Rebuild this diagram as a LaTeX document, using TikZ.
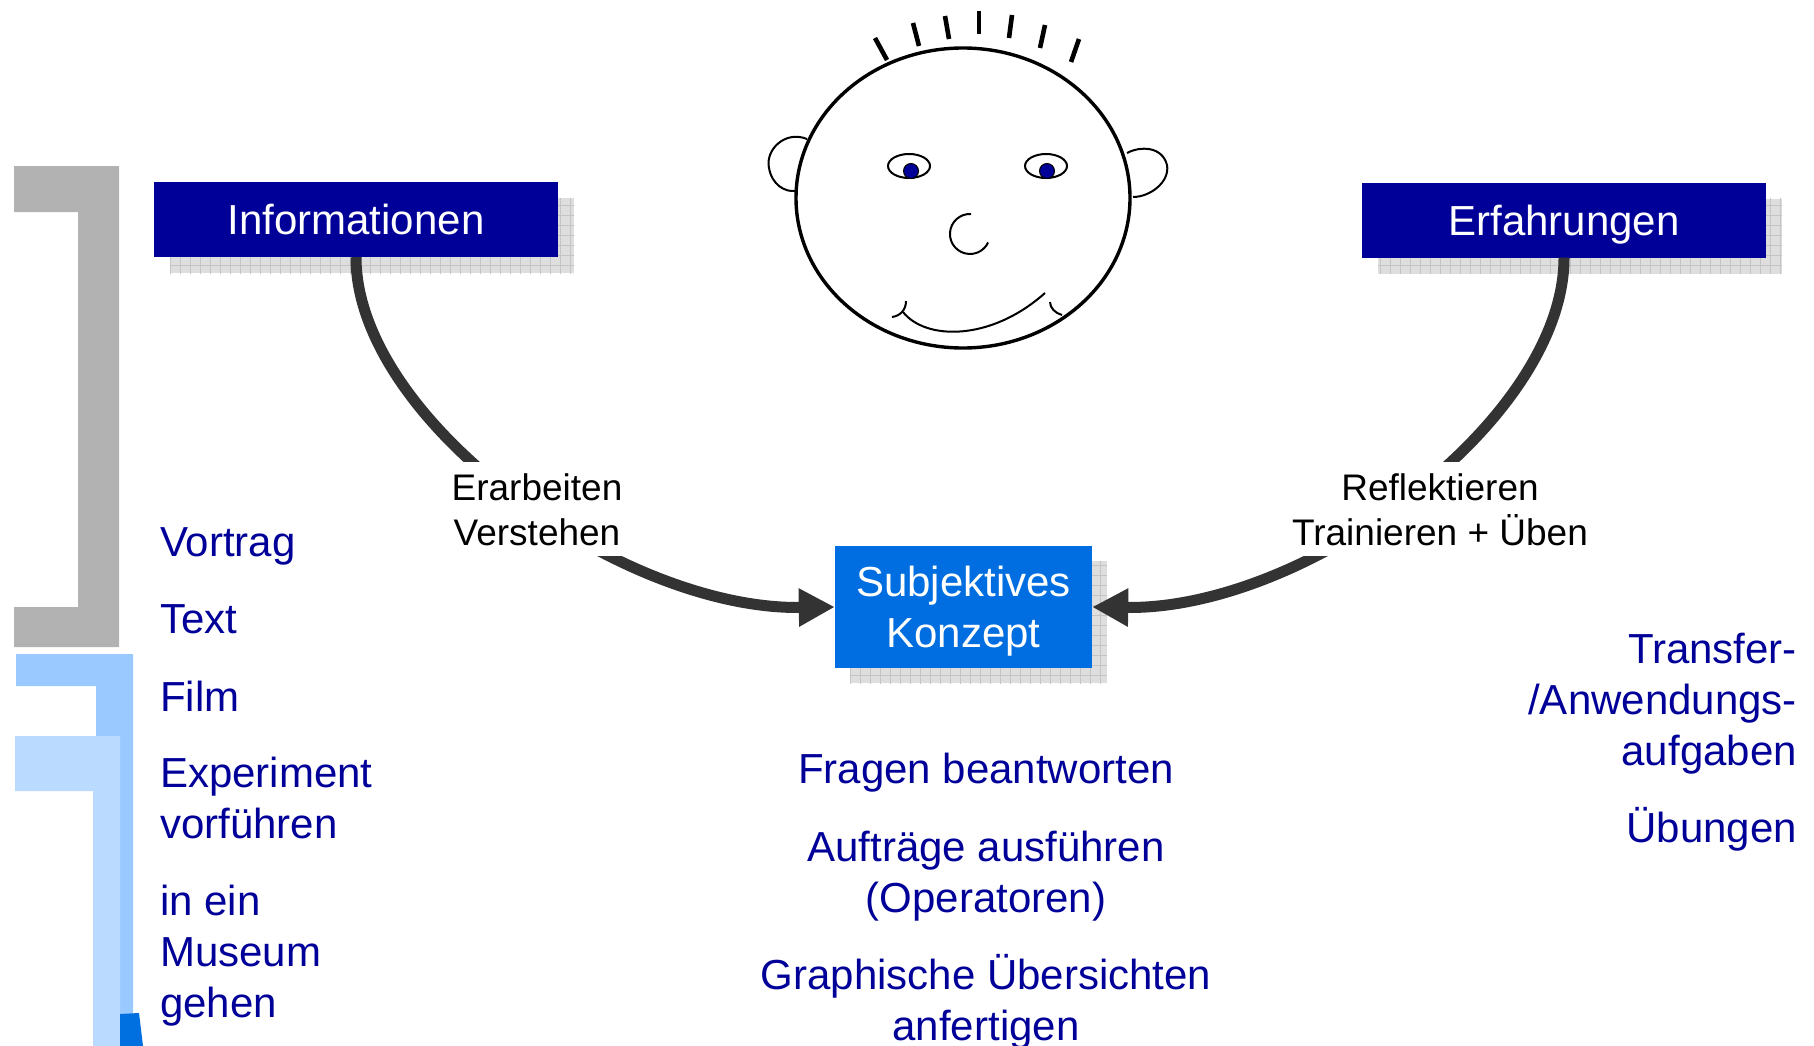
\documentclass[tikz,border=0pt]{standalone}
\usepackage{fontspec}
\setmainfont{Liberation Sans}
\usetikzlibrary{arrows.meta,shadows,patterns.meta}

\newlength{\du}
\setlength{\du}{1pt}

\definecolor{navytext}{RGB}{0,0,153}
\definecolor{boxnavy}{RGB}{0,0,153}
\definecolor{boxblue}{RGB}{0,110,224}
\definecolor{arrowgray}{RGB}{51,51,51}
\definecolor{shadowgray}{RGB}{222,222,222}
\definecolor{gridgray}{RGB}{196,196,196}
\definecolor{bracketgray}{RGB}{178,178,178}
\definecolor{bluebarA}{RGB}{153,201,255}
\definecolor{bluebarB}{RGB}{186,218,255}
\definecolor{bluetick}{RGB}{0,112,224}

\tikzset{
  gridshadow/.style={
    drop shadow={shadow xshift=#1, shadow yshift=-#1, fill=shadowgray, opacity=1},
    drop shadow={shadow xshift=#1, shadow yshift=-#1, opacity=1,
      pattern={Hatch[angle=0, distance=10pt, line width=1pt]}, pattern color=gridgray}},
  topicbox/.style={fill=boxnavy, text=white, inner sep=0pt, text depth=0pt,
    minimum width=404\du, minimum height=75\du,
    font=\fontsize{42}{51}\selectfont, gridshadow=16pt},
  conceptbox/.style={fill=boxblue, text=white, inner sep=0pt, text depth=0pt, align=center,
    minimum width=257\du, minimum height=122\du,
    font=\fontsize{42}{51}\selectfont, gridshadow=15pt},
  flow/.style={draw=arrowgray, line width=11\du, -{Triangle[length=36pt, width=36pt]}},
  flowlabel/.style={fill=white, inner sep=11\du, align=center, anchor=north,
    font=\fontsize{37}{45}\selectfont},
  item/.style={text=navytext, inner sep=0pt, font=\fontsize{42}{51}\selectfont},
  headline/.style={line width=3.4\du},
  hairline/.style={line width=4.6\du},
  thinline/.style={line width=2\du}
}

\begin{document}
\begin{tikzpicture}[x=1\du, y=-1\du]
\useasboundingbox (0,0) rectangle (1814,1046);

% bars on the left
\fill[bracketgray] (14,166) -- (119,166) -- (119,647) -- (14,647) -- (14,607) -- (78,607) -- (78,212) -- (14,212) -- cycle;
\fill[bluebarA] (16,654) -- (133,654) -- (133,1046) -- (96,1046) -- (96,686) -- (16,686) -- cycle;
\fill[bluebarB] (15,736) -- (120,736) -- (120,1046) -- (93,1046) -- (93,791) -- (15,791) -- cycle;
\fill[bluetick] (120,1014) -- (139,1013) -- (143,1046) -- (120,1046) -- cycle;

% face
\draw[thinline] (807,139) .. controls (785,130) and (765,150) .. (769,168) .. controls (772,185) and (785,192) .. (795,191);
\draw[thinline] (1127,153) .. controls (1140,146) and (1162,146) .. (1167,165) .. controls (1170,182) and (1150,197) .. (1133,197);
\draw[headline, fill=white] (963,198) ellipse [x radius=167, y radius=150];
\draw[hairline] (875,38) -- (887,60);
\draw[hairline] (913,23) -- (919,46);
\draw[hairline] (945,16) -- (949,39);
\draw[hairline] (979,11) -- (979,34);
\draw[hairline] (1012,15) -- (1009,38);
\draw[hairline] (1045,25) -- (1040,48);
\draw[hairline] (1079,39) -- (1071,62);
\draw[thinline] (909,166) ellipse [x radius=21, y radius=12];
\draw[thinline] (1046,166) ellipse [x radius=21, y radius=12];
\filldraw[fill=navytext, line width=1\du] (911,171) circle [radius=7.5];
\filldraw[fill=navytext, line width=1\du] (1047,171) circle [radius=7.5];
\draw[thinline] (971,214) arc [start angle=-87, end angle=-335, radius=20];
\draw[thinline] (903,312) .. controls (925,340) and (990,342) .. (1045,293);
\draw[thinline] (892,317) .. controls (900,316) and (906,310) .. (906,301);
\draw[thinline] (1050,302) .. controls (1050,308) and (1055,313) .. (1062,315);

% boxes
\node[topicbox] (info) at (356,219.5) {Informationen};
\node[topicbox] (erf) at (1564,220) {Erfahrungen};
\node[conceptbox] (konzept) at (963.5,607) {Subjektives\\Konzept};

% connectors
\draw[flow] (info.south) .. controls (356,420) and (620,610) .. (konzept.west);
\draw[flow] (erf.south) .. controls (1564,420) and (1307,610) .. (konzept.east);
\node[flowlabel] (erarbeiten) at (537,462) {Erarbeiten\\Verstehen};
\node[flowlabel] (reflektieren) at (1440,462) {Reflektieren\\Trainieren + Üben};

% blue items (base = last line)
\node[item, anchor=base west] (vortrag) at (160,556) {Vortrag};
\node[item, anchor=base west] (text) at (160,633) {Text};
\node[item, anchor=base west] (film) at (160,711) {Film};
\node[item, anchor=base west, align=left] (experiment) at (160,838) {Experiment\\vorführen};
\node[item, anchor=base west, align=left] (museum) at (160,1017) {in ein\\Museum\\gehen};
\node[item, anchor=base] (fragen) at (986,783) {Fragen beantworten};
\node[item, anchor=base, align=center] (auftraege) at (986,912) {Aufträge ausführen\\(Operatoren)};
\node[item, anchor=base, align=center] (graphisch) at (986,1040) {Graphische Übersichten\\anfertigen};
\node[item, anchor=base east, align=right] (transfer) at (1797,765) {Transfer-\\/Anwendungs-\\aufgaben};
\node[item, anchor=base east] (uebungen) at (1797,842) {Übungen};
\end{tikzpicture}
\end{document}
